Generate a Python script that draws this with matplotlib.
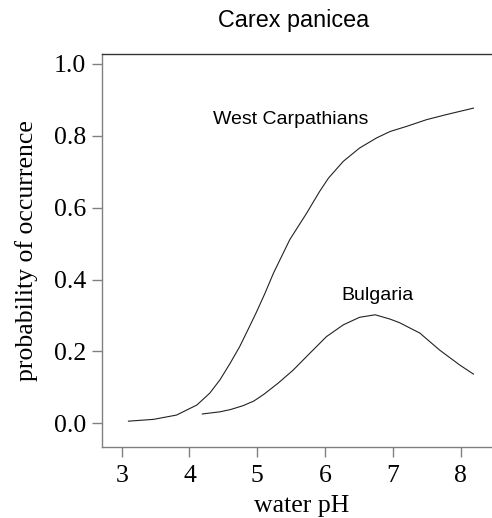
import matplotlib
matplotlib.use("Agg")
import matplotlib.pyplot as plt

# Curvas (pH da agua vs probabilidade de ocorrencia)
ph_wc = [3.10, 3.47, 3.81, 4.11, 4.30, 4.45, 4.60, 4.74, 4.87, 4.99, 5.11, 5.24, 5.48,
         5.73, 5.92, 6.05, 6.27, 6.51, 6.76, 6.96, 7.20, 7.50, 7.79, 8.19]
prob_wc = [0.006, 0.011, 0.023, 0.051, 0.084, 0.121, 0.167, 0.213, 0.263, 0.31, 0.36, 0.418, 0.511,
           0.585, 0.645, 0.682, 0.729, 0.766, 0.794, 0.812, 0.826, 0.845, 0.859, 0.877]

ph_bg = [4.19, 4.45, 4.60, 4.79, 4.95, 5.10, 5.31, 5.53, 5.75, 6.02, 6.27, 6.51,
         6.74, 6.96, 7.10, 7.40, 7.69, 7.99, 8.19]
prob_bg = [0.026, 0.032, 0.038, 0.049, 0.062, 0.081, 0.112, 0.148, 0.19, 0.241, 0.274, 0.295,
           0.302, 0.29, 0.28, 0.251, 0.204, 0.162, 0.137]

xticks = [3, 4, 5, 6, 7, 8]
yticks = [0.0, 0.2, 0.4, 0.6, 0.8, 1.0]

fig = plt.figure(figsize=(4.92, 5.18), dpi=100)
ax = fig.add_axes([0.2067, 0.137, 0.812, 0.759])

ax.plot(ph_wc, prob_wc, color="#222222", lw=0.8)
ax.plot(ph_bg, prob_bg, color="#222222", lw=0.8)

ax.text(5.49, 0.845, "West Carpathians", family="Liberation Sans", fontsize=14, ha="center", va="center")
ax.text(6.77, 0.357, "Bulgaria", family="Liberation Sans", fontsize=14, ha="center", va="center")

ax.set_xlim(2.705, 8.6)
ax.set_ylim(-0.066, 1.028)
ax.set_xticks(xticks)
ax.set_xticklabels([str(t) for t in xticks])
ax.set_yticks(yticks)
ax.set_yticklabels(["%.1f" % t for t in yticks])

for s in ["left", "bottom"]:
    ax.spines[s].set_color("#808080")
ax.spines["top"].set_color("#333333")
ax.spines["right"].set_visible(False)
for s in ax.spines.values():
    s.set_linewidth(1.0)

ax.tick_params(direction="out", length=7, width=1, color="#808080")
ax.tick_params(axis="x", pad=6)
ax.tick_params(axis="y", pad=4)
for lab in ax.get_xticklabels() + ax.get_yticklabels():
    lab.set_family("Liberation Serif")
    lab.set_fontsize(18.5)

ax.set_xlabel("water pH", family="Liberation Serif", fontsize=18.5, labelpad=6)
ax.set_ylabel("probability of occurrence", family="Liberation Serif", fontsize=18.5, labelpad=12)

fig.text(294 / 492, 1 - 21 / 518, "Carex panicea", family="Liberation Sans", fontsize=16.8, ha="center", va="center")

fig.savefig("out.png", dpi=100)
